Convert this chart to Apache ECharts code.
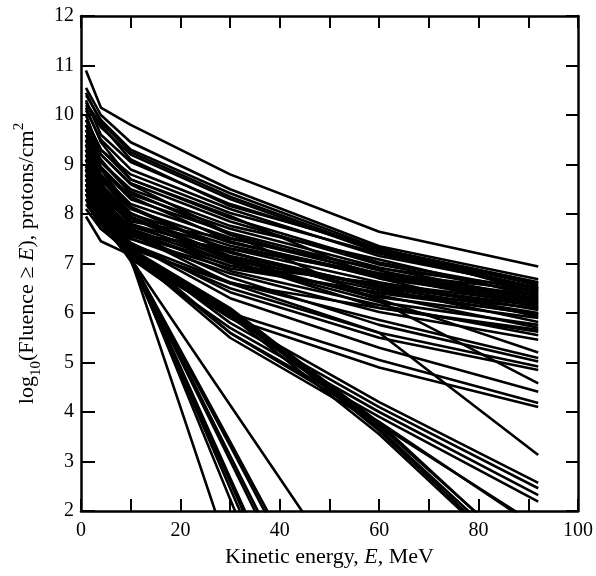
<!DOCTYPE html>
<html>
<head>
<meta charset="utf-8">
<script src="https://cdn.jsdelivr.net/npm/echarts@6/dist/echarts.min.js"></script>
<style>html,body{margin:0;padding:0;background:#fff;}#c{width:596px;height:576px;}</style>
</head>
<body>
<div id="c"></div>
<script>
// Energy thresholds (MeV) at which each event's fluence is given
var energies = [1, 4, 10, 30, 60, 92];

// log10 fluence values per event, read at the energies above
var upperEvents = [
  [10.9, 10.15, 9.8, 8.8, 7.64, 6.94],
  [10.55, 10.0, 9.45, 8.5, 7.35, 6.68],
  [10.4, 9.9, 9.3, 8.42, 7.3, 6.62],
  [10.2, 9.75, 9.2, 8.3, 7.22, 6.6],
  [10.3, 9.6, 9.05, 8.2, 7.28, 6.56],
  [10.1, 9.5, 8.9, 8.1, 7.15, 6.52],
  [9.9, 9.3, 8.8, 8.02, 7.2, 6.48],
  [10.15, 9.45, 8.7, 7.92, 7.02, 6.44],
  [9.8, 9.2, 8.62, 7.85, 6.98, 6.38],
  [9.7, 9.05, 8.5, 7.76, 7.08, 6.33],
  [9.6, 9.1, 8.4, 7.7, 6.92, 6.27],
  [9.5, 8.9, 8.3, 7.62, 6.86, 6.22],
  [9.4, 8.8, 8.2, 7.52, 6.8, 6.17],
  [9.3, 8.7, 8.1, 7.42, 6.76, 6.12],
  [9.2, 8.6, 8.0, 7.36, 6.74, 6.3],
  [9.0, 8.5, 7.9, 7.3, 6.62, 6.06],
  [8.9, 8.4, 7.8, 7.22, 6.52, 6.0],
  [8.8, 8.3, 7.75, 7.12, 6.46, 5.96],
  [8.6, 8.2, 7.7, 7.02, 6.32, 5.9],
  [8.5, 8.0, 7.6, 6.96, 6.6, 6.2],
  [8.3, 7.9, 7.5, 6.9, 6.42, 6.1],
  [9.1, 8.5, 7.8, 7.02, 6.22, 5.76],
  [9.3, 8.6, 7.92, 7.06, 6.1, 5.62],
  [8.7, 8.1, 7.5, 6.8, 6.02, 5.46],
  [9.5, 8.7, 8.02, 7.1, 6.28, 5.2],
  [8.4, 7.9, 7.4, 6.62, 5.86, 5.09],
  [9.0, 8.3, 7.62, 6.72, 5.76, 5.02],
  [8.2, 7.8, 7.35, 6.5, 5.6, 4.92],
  [8.8, 8.1, 7.42, 6.42, 5.5, 4.85],
  [9.7, 8.9, 8.12, 7.22, 6.5, 5.82],
  [10.0, 9.2, 8.6, 7.6, 6.24, 4.58],
  [8.6, 8.0, 7.4, 6.3, 5.3, 4.41],
  [8.3, 7.7, 7.2, 6.0, 5.05, 4.18],
  [7.95, 7.45, 7.17, 5.9, 4.9, 4.1],
  [8.1, 7.7, 7.3, 6.6, 6.1, 5.66],
  [9.9, 9.3, 8.7, 7.96, 6.7, 5.92],
  [10.25, 9.8, 9.1, 8.16, 7.32, 6.4],
  [9.2, 8.5, 7.85, 7.5, 6.9, 6.5],
  [8.9, 8.2, 7.6, 7.3, 6.8, 6.45],
  [9.6, 8.95, 8.35, 7.45, 6.7, 6.25],
  [9.1, 8.55, 7.95, 7.15, 6.55, 6.08],
  [8.7, 8.25, 7.65, 6.95, 6.4, 5.98],
  [9.8, 9.05, 8.45, 7.58, 6.78, 6.35],
  [8.4, 8.0, 7.55, 7.05, 6.56, 6.14],
  [9.4, 8.75, 8.15, 7.25, 6.36, 5.7],
  [8.95, 8.35, 7.7, 6.85, 6.16, 5.55],
  [10.45, 9.85, 9.25, 8.35, 7.26, 6.5]
];

var middleEvents = [
  [9.2, 8.4, 7.6, 6.6, 5.6, 3.13],
  [8.6, 7.9, 7.2, 5.9, 4.2, 2.57],
  [8.9, 8.1, 7.3, 5.8, 4.1, 2.46],
  [8.4, 7.8, 7.1, 5.7, 4.0, 2.32],
  [8.7, 8.0, 7.2, 5.6, 3.9, 2.19],
  [9.0, 8.2, 7.3, 5.6, 3.8, 1.65],
  [8.5, 7.9, 7.2, 5.5, 3.75, 1.7],
  [9.4, 8.5, 7.3, 6.1, 3.78, 0.8],
  [9.1, 8.3, 7.2, 6.05, 3.72, 0.85],
  [8.8, 8.1, 7.15, 6.0, 3.66, 0.7],
  [9.6, 8.7, 7.25, 6.08, 3.62, 0.6],
  [8.5, 7.8, 7.1, 5.95, 3.55, 0.55]
];

var steepEvents = [
  [9.0, 8.2, 7.1, 1.1],
  [8.8, 8.0, 7.15, 2.24, -5.0],
  [9.3, 8.4, 7.1, 2.46, -4.5],
  [8.6, 7.9, 7.05, 2.59, -4.2],
  [9.5, 8.6, 7.15, 2.67, -4.0],
  [8.7, 8.0, 7.1, 3.02, -3.1],
  [9.1, 8.3, 7.12, 3.12, -2.9],
  [8.9, 8.1, 7.08, 3.32, -2.4],
  [9.4, 8.5, 7.1, 3.4, -2.2],
  [8.5, 7.85, 7.1, 4.14, -0.3]
];

var xTicks = [0, 20, 40, 60, 80, 100];
var yTicks = [2, 3, 4, 5, 6, 7, 8, 9, 10, 11, 12];

var FONT = 'Liberation Serif';
var allEvents = upperEvents.concat(middleEvents, steepEvents);
var series = allEvents.map(function (vals) {
  return {
    type: 'line',
    xAxisIndex: 0, yAxisIndex: 0,
    data: vals.map(function (v, i) { return [energies[i], v]; }),
    showSymbol: false, symbol: 'none', silent: true, clip: true,
    lineStyle: { color: '#000', width: 2.6 }
  };
});

function axisBase(extra) {
  var base = {
    type: 'value',
    axisLine: { show: true, onZero: false, lineStyle: { color: '#000', width: 2.5 } },
    axisTick: { show: true, inside: true, length: 12, lineStyle: { color: '#000', width: 2 } },
    splitLine: { show: false },
    axisLabel: { show: false }
  };
  for (var k in extra) base[k] = extra[k];
  return base;
}

var chart = echarts.init(document.getElementById('c'), null, { renderer: 'canvas' });
chart.setOption({
  backgroundColor: '#fff',
  animation: false,
  grid: { left: 81, right: 18, top: 16, bottom: 65 },
  xAxis: [
    axisBase({
      min: 0, max: 100, interval: 10, position: 'bottom',
      axisLabel: {
        show: true, color: '#000', fontFamily: FONT, fontSize: 20, margin: 10,
        formatter: function (v) { return xTicks.indexOf(v) >= 0 ? String(v) : ''; }
      },
      name: '{n|Kinetic energy, }{i|E}{n|, MeV}',
      nameLocation: 'middle', nameGap: 30,
      nameTextStyle: {
        rich: {
          n: { fontFamily: FONT, fontSize: 22, color: '#000' },
          i: { fontFamily: FONT, fontSize: 22, fontStyle: 'italic', color: '#000' }
        }
      }
    }),
    axisBase({ min: 0, max: 100, interval: 10, position: 'top' })
  ],
  yAxis: [
    axisBase({
      min: 2, max: 12, interval: 1, position: 'left',
      axisTick: { show: true, inside: true, length: 14, lineStyle: { color: '#000', width: 2 } },
      axisLabel: {
        show: true, color: '#000', fontFamily: FONT, fontSize: 20, margin: 7,
        formatter: function (v) { return yTicks.indexOf(v) >= 0 ? String(v) : ''; }
      },
      name: '{n|log}{s|10}{n|(Fluence ≥ }{i|E}{n|), protons/cm}{p|2}',
      nameLocation: 'middle', nameGap: 30, nameRotate: 90,
      nameTextStyle: {
        rich: {
          n: { fontFamily: FONT, fontSize: 22, color: '#000', lineHeight: 32, verticalAlign: 'middle' },
          i: { fontFamily: FONT, fontSize: 22, fontStyle: 'italic', color: '#000', lineHeight: 32, verticalAlign: 'middle' },
          s: { fontFamily: FONT, fontSize: 15, color: '#000', lineHeight: 15, verticalAlign: 'bottom' },
          p: { fontFamily: FONT, fontSize: 15, color: '#000', lineHeight: 15, verticalAlign: 'top' }
        }
      }
    }),
    axisBase({ min: 2, max: 12, interval: 1, position: 'right' })
  ],
  series: series
});
</script>
</body>
</html>
